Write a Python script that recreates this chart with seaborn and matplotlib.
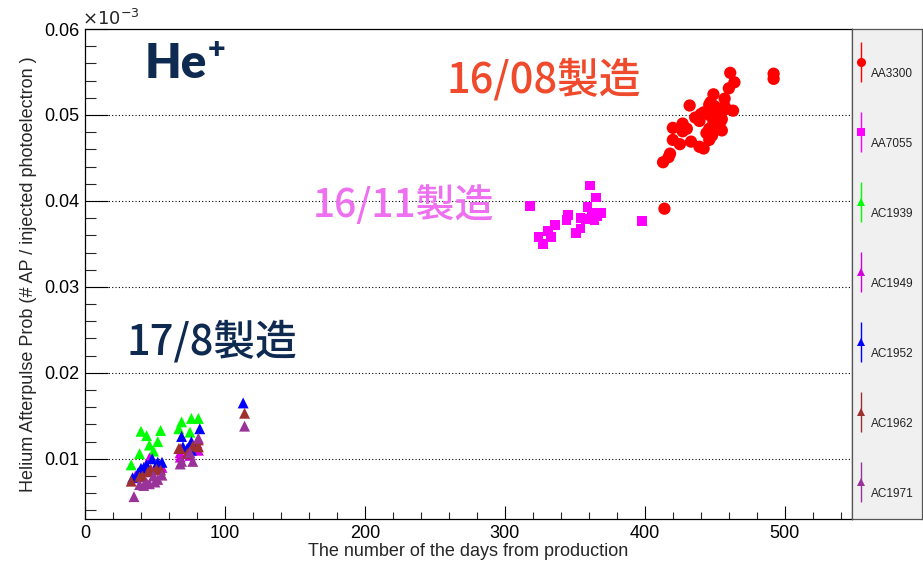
import numpy as np
import pandas as pd
import matplotlib
matplotlib.use("Agg")
import matplotlib.pyplot as plt
from matplotlib.ticker import MultipleLocator
import seaborn as sns

# ---------------- data (values in units of 1e-3) ----------------
series_names = ["AA3300", "AA7055", "AC1939", "AC1949", "AC1952", "AC1962", "AC1971"]

aa3300_day = [461, 464, 492, 492, 460, 449, 432, 457, 446, 447, 457, 442, 440, 463, 454,
              458, 446, 439, 449, 451, 454, 455, 420, 427, 427, 446, 455, 448, 446, 420,
              425, 433, 439, 442, 418, 417, 413, 414, 452, 450, 436, 444, 430]
aa3300_val = [0.0549, 0.0538, 0.0548, 0.0542, 0.0531, 0.0524, 0.0511, 0.0519, 0.0512, 0.0515,
              0.0510, 0.0503, 0.0501, 0.0505, 0.0504, 0.0507, 0.0500, 0.0493, 0.0492, 0.0498,
              0.0492, 0.0495, 0.0485, 0.0490, 0.0481, 0.0484, 0.0482, 0.0476, 0.0471, 0.0471,
              0.0466, 0.0469, 0.0463, 0.0461, 0.0455, 0.0451, 0.0445, 0.0391, 0.0488, 0.0510,
              0.0497, 0.0479, 0.0484]

aa7055_day = [318, 361, 365, 359, 369, 345, 354, 358, 364, 344, 398, 336, 354, 351, 331,
              333, 324, 327, 362, 366]
aa7055_val = [0.0394, 0.0418, 0.0404, 0.0393, 0.0386, 0.0384, 0.0380, 0.0379, 0.0378, 0.0378,
              0.0377, 0.0372, 0.0368, 0.0363, 0.0365, 0.0358, 0.0358, 0.0350, 0.0386, 0.0382]

ac1939_day = [33, 39, 40, 44, 46, 49, 52, 54, 67, 69, 75, 76, 81]
ac1939_val = [0.0093, 0.0106, 0.0132, 0.0127, 0.0116, 0.0109, 0.0120, 0.0133, 0.0135, 0.0143,
              0.0131, 0.0147, 0.0147]

ac1949_day = [36, 43, 46, 51, 55, 68, 68, 75, 80, 81]
ac1949_val = [0.0080, 0.0085, 0.0101, 0.0091, 0.0090, 0.0107, 0.0102, 0.0104, 0.0118, 0.0110]

ac1952_day = [34, 38, 40, 42, 44, 48, 52, 55, 69, 70, 73, 76, 76, 82, 113]
ac1952_val = [0.0078, 0.0084, 0.0089, 0.0090, 0.0093, 0.0100, 0.0096, 0.0096, 0.0126, 0.0114,
              0.0112, 0.0120, 0.0110, 0.0135, 0.0165]

ac1962_day = [33, 39, 41, 45, 47, 51, 54, 67, 68, 73, 74, 77, 81, 81, 114]
ac1962_val = [0.0074, 0.0079, 0.0080, 0.0085, 0.0088, 0.0088, 0.0087, 0.0112, 0.0112, 0.0106,
              0.0107, 0.0115, 0.0122, 0.0114, 0.0153]

ac1971_day = [35, 39, 42, 44, 46, 49, 50, 52, 55, 68, 69, 75, 77, 81, 114]
ac1971_val = [0.0056, 0.0070, 0.0069, 0.0072, 0.0071, 0.0080, 0.0073, 0.0076, 0.0081, 0.0094,
              0.0097, 0.0107, 0.0097, 0.0124, 0.0138]

days = [aa3300_day, aa7055_day, ac1939_day, ac1949_day, ac1952_day, ac1962_day, ac1971_day]
vals = [aa3300_val, aa7055_val, ac1939_val, ac1949_val, ac1952_val, ac1962_val, ac1971_val]

colors = ["#FF0000", "#FF00FF", "#00FF00", "#D400E0", "#0000FF", "#9E3030", "#993399"]
markers = ["o", "s", "^", "^", "^", "^", "^"]
sizes = [78, 50, 62, 62, 62, 62, 62]

x_ticks = [0, 100, 200, 300, 400, 500]
y_ticks = [0.01, 0.02, 0.03, 0.04, 0.05, 0.06]
y_tick_labels = ["0.01", "0.02", "0.03", "0.04", "0.05", "0.06"]

# ---------------- figure ----------------
sns.set_theme(style="white")
plt.rcParams["font.family"] = ["Liberation Sans", "DejaVu Sans"]

W, H = 923, 567
fig = plt.figure(figsize=(W / 100, H / 100), dpi=100)
fig.patch.set_facecolor("white")

L, R, T, B = 85, 852, 29, 519
ax = fig.add_axes([L / W, 1 - B / H, (R - L) / W, (B - T) / H])
ax.set_facecolor("white")

df = pd.concat([pd.DataFrame({"day": d, "prob": v, "series": n})
                for d, v, n in zip(days, vals, series_names)], ignore_index=True)

sns.scatterplot(data=df, x="day", y="prob", hue="series", style="series", size="series",
                palette=dict(zip(series_names, colors)),
                markers=dict(zip(series_names, markers)),
                sizes=dict(zip(series_names, sizes)),
                linewidth=0, legend=False, ax=ax, zorder=3)

ax.set_xlim(0, 548)
ax.set_ylim(0.003, 0.06)
ax.set_xticks(x_ticks)
ax.set_xticklabels([str(t) for t in x_ticks])
ax.set_yticks(y_ticks)
ax.set_yticklabels(y_tick_labels)
ax.xaxis.set_minor_locator(MultipleLocator(20))
ax.yaxis.set_minor_locator(MultipleLocator(0.002))
ax.tick_params(axis="x", which="major", direction="in", length=9.5, width=0.8, pad=4,
               labelsize=13, colors="black", bottom=True, top=False)
ax.tick_params(axis="x", which="minor", direction="in", length=5, width=0.8,
               bottom=True, top=False)
ax.tick_params(axis="y", which="major", direction="in", length=16.5, width=0.8, pad=4,
               labelsize=13, colors="black", left=True, right=False)
ax.tick_params(axis="y", which="minor", direction="in", length=8, width=0.8,
               left=True, right=False)
for s in ax.spines.values():
    s.set_color("black")
    s.set_linewidth(0.9)
    s.set_visible(True)

for yv in y_ticks[:-1]:
    ax.axhline(yv, color="black", lw=0.8, ls=(0, (1, 2)), zorder=1)

ax.set_xlabel("The number of the days from production", fontsize=13, labelpad=1)
ax.set_ylabel("")
fig.text(29 / W, 1 - 274 / H, "Helium Afterpulse Prob (# AP / injected photoelectron )",
         rotation=90, ha="center", va="center", fontsize=13)
fig.text(82 / W, 1 - 25 / H, r"$\times10^{-3}$", fontsize=13, ha="left", va="baseline")

# annotations
cjk = ["Noto Sans CJK JP", "DejaVu Sans"]
bold_fam = ["Lato", "DejaVu Sans"]
fig.text(145 / W, 1 - 78 / H, "He", fontsize=34, fontweight="heavy", color="#0E2A50",
         family=bold_fam, ha="left", va="baseline")
fig.text(208 / W, 1 - 35 / H, "+", fontsize=22, fontweight="heavy", color="#0E2A50",
         family=bold_fam, ha="left", va="top")
fig.text(447 / W, 1 - 93 / H, "16/08製造", fontsize=30, color="#F04A2D",
         family=cjk, fontweight="medium", ha="left", va="baseline")
fig.text(313 / W, 1 - 217 / H, "16/11製造", fontsize=28, color="#EE70F0",
         family=cjk, fontweight="medium", ha="left", va="baseline")
fig.text(127 / W, 1 - 355 / H, "17/8製造", fontsize=30, color="#0E2A50",
         family=cjk, fontweight="medium", ha="left", va="baseline")

# legend panel
lax = fig.add_axes([R / W, 1 - B / H, (922 - R) / W, (B - T) / H])
lax.set_facecolor("#F0F0F0")
lax.set_xlim(0, 1)
lax.set_ylim(0, 1)
lax.set_xticks([])
lax.set_yticks([])
for s in lax.spines.values():
    s.set_color("#555555")
    s.set_linewidth(0.9)
for i, (n, c, m) in enumerate(zip(series_names, colors, markers)):
    yy = 0.933 - 0.1429 * i
    lax.errorbar([0.13], [yy], yerr=[0.041], fmt=m, color=c, ms=6.5 if m == "o" else 6,
                 elinewidth=1.0, capsize=0, mew=0)
    lax.text(0.27, yy - 0.024, n, fontsize=8.5, ha="left", va="center", color="#222222")

fig.savefig("out.png", dpi=100, facecolor="white")
